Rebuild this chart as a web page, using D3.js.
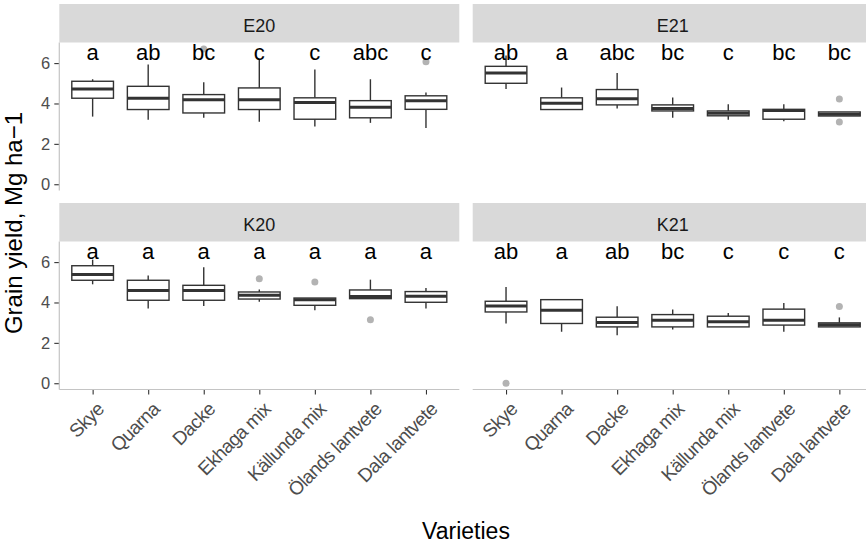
<!DOCTYPE html>
<html>
<head>
<meta charset="utf-8">
<script src="https://cdn.jsdelivr.net/npm/d3@7"></script>
<style>
  body { margin: 0; background: #fff; }
  svg { display: block; font-family: "Liberation Sans", Arial, sans-serif; }
</style>
</head>
<body>
<div id="chart"></div>
<script>
// Chart size
const width = 866;
const height = 544;

// Data
const varieties = ["Skye", "Quarna", "Dacke", "Ekhaga mix", "Källunda mix", "Ölands lantvete", "Dala lantvete"];
const sites = ["E20", "E21", "K20", "K21"];

const lowerWhisker = [
    [3.35, 3.20, 3.29, 3.10, 2.86, 3.04, 2.79],
    [4.72, 3.70, 3.75, 3.29, 3.20, 3.12, 3.38],
    [4.90, 3.70, 3.83, 4.03, 3.62, 4.19, 3.70],
    [2.96, 2.55, 2.38, 2.66, 2.79, 2.55, 2.79]
];
const q1 = [
    [4.26, 3.70, 3.53, 3.70, 3.22, 3.29, 3.71],
    [5.00, 3.70, 3.93, 3.63, 3.39, 3.22, 3.38],
    [5.10, 4.11, 4.11, 4.17, 3.86, 4.19, 4.01],
    [3.53, 2.96, 2.79, 2.79, 2.79, 2.88, 2.79]
];
const medians = [
    [4.72, 4.26, 4.18, 4.18, 4.05, 3.81, 4.14],
    [5.51, 4.01, 4.24, 3.75, 3.51, 3.65, 3.47],
    [5.38, 4.59, 4.59, 4.36, 4.14, 4.29, 4.31],
    [3.83, 3.62, 3.01, 3.12, 3.04, 3.12, 2.90]
];
const q3 = [
    [5.10, 4.85, 4.44, 4.77, 4.28, 4.14, 4.38],
    [5.84, 4.28, 4.69, 3.93, 3.63, 3.71, 3.58],
    [5.82, 5.10, 4.85, 4.52, 4.22, 4.62, 4.54],
    [4.06, 4.14, 3.27, 3.40, 3.32, 3.67, 2.99]
];
const upperWhisker = [
    [5.20, 5.93, 5.05, 6.20, 5.68, 5.20, 4.54],
    [6.37, 4.79, 5.51, 4.29, 3.96, 3.96, 3.58],
    [6.12, 5.34, 5.75, 4.64, 4.22, 5.13, 4.72],
    [4.77, 4.14, 3.81, 3.65, 3.48, 3.98, 3.26]
];
// [site, variety, value]
const outliers = [
    ["E20", "Dacke", 6.70], ["E20", "Dala lantvete", 6.07],
    ["E21", "Dala lantvete", 4.22], ["E21", "Dala lantvete", 3.08],
    ["K20", "Ekhaga mix", 5.18], ["K20", "Källunda mix", 5.01], ["K20", "Ölands lantvete", 3.14],
    ["K21", "Skye", 0.0], ["K21", "Dala lantvete", 3.80]
];
const letters = [
    ["a", "ab", "bc", "c", "c", "abc", "c"],
    ["ab", "a", "abc", "bc", "c", "bc", "bc"],
    ["a", "a", "a", "a", "a", "a", "a"],
    ["ab", "a", "ab", "bc", "c", "c", "c"]
];
const letterY = 6.15;
const yTicks = [0, 2, 4, 6];

// Panel layout (2 x 2 facets)
const colX = [59.3, 472.7];
const rowY = [42.5, 241.5];
const panelW = 400;
const panelH = 148;
const stripH = 38.5;

const svg = d3.select("#chart").append("svg")
    .attr("width", width)
    .attr("height", height);

sites.forEach((site, i) => {
    const col = i % 2, row = Math.floor(i / 2);
    const x0 = colX[col], y0 = rowY[row];

    const x = d3.scalePoint()
        .domain(varieties)
        .range([x0, x0 + panelW])
        .padding(0.6);
    const y = d3.scaleLinear()
        .domain([-0.31, 7.02])
        .range([y0 + panelH, y0]);
    const boxW = x.step() * 0.75;

    // strip
    svg.append("rect")
        .attr("x", x0).attr("y", y0 - stripH)
        .attr("width", panelW).attr("height", stripH)
        .attr("fill", "#d9d9d9");
    svg.append("text")
        .attr("x", x0 + panelW / 2).attr("y", y0 - 10.5)
        .attr("text-anchor", "middle")
        .attr("font-size", 18)
        .attr("fill", "#1a1a1a")
        .text(site);

    // axes
    if (col === 0) {
        const ay = svg.append("g")
            .attr("transform", `translate(${x0},0)`)
            .call(d3.axisLeft(y).tickValues(yTicks).tickSize(5).tickPadding(4).tickFormat(d3.format("d")));
        ay.select(".domain").remove();
        ay.selectAll(".tick line").attr("stroke", "#333").attr("stroke-width", 1.1);
        ay.selectAll(".tick text").attr("font-size", 16.5).attr("fill", "#4d4d4d").attr("font-family", null);
        svg.append("line")
            .attr("x1", x0).attr("x2", x0)
            .attr("y1", y0).attr("y2", y0 + panelH)
            .attr("stroke", "#c4c4c4").attr("stroke-width", 1.2);
    }
    if (row === 1) {
        const ax = svg.append("g")
            .attr("transform", `translate(0,${y0 + panelH})`)
            .call(d3.axisBottom(x).tickSize(5).tickFormat(""));
        ax.select(".domain").remove();
        ax.selectAll(".tick line").attr("stroke", "#333").attr("stroke-width", 1.1);
        ax.selectAll(".tick").append("text")
            .attr("text-anchor", "end")
            .attr("transform", "translate(12,21) rotate(-45)")
            .attr("font-size", 19)
            .attr("letter-spacing", -0.6)
            .attr("fill", "#4d4d4d")
            .text(d => d);
        svg.append("line")
            .attr("x1", x0).attr("x2", x0 + panelW)
            .attr("y1", y0 + panelH).attr("y2", y0 + panelH)
            .attr("stroke", "#c4c4c4").attr("stroke-width", 1.2);
    }

    // boxplots
    const g = svg.append("g");
    varieties.forEach((v, j) => {
        const cx = x(v);
        g.append("line")
            .attr("x1", cx).attr("x2", cx)
            .attr("y1", y(q3[i][j])).attr("y2", y(upperWhisker[i][j]))
            .attr("stroke", "#333").attr("stroke-width", 1.4);
        g.append("line")
            .attr("x1", cx).attr("x2", cx)
            .attr("y1", y(q1[i][j])).attr("y2", y(lowerWhisker[i][j]))
            .attr("stroke", "#333").attr("stroke-width", 1.4);
        g.append("rect")
            .attr("x", cx - boxW / 2).attr("y", y(q3[i][j]))
            .attr("width", boxW).attr("height", y(q1[i][j]) - y(q3[i][j]))
            .attr("fill", "#fff").attr("stroke", "#333").attr("stroke-width", 1.4);
        g.append("line")
            .attr("x1", cx - boxW / 2).attr("x2", cx + boxW / 2)
            .attr("y1", y(medians[i][j])).attr("y2", y(medians[i][j]))
            .attr("stroke", "#333").attr("stroke-width", 3);
    });

    g.selectAll("circle.out")
        .data(outliers.filter(o => o[0] === site))
        .enter().append("circle")
        .attr("class", "out")
        .attr("cx", d => x(d[1]))
        .attr("cy", d => y(d[2]))
        .attr("r", 3.5)
        .attr("fill", "#b3b3b3");

    // significance letters
    g.selectAll("text.letter")
        .data(letters[i])
        .enter().append("text")
        .attr("class", "letter")
        .attr("x", (d, j) => x(varieties[j]))
        .attr("y", y(letterY))
        .attr("text-anchor", "middle")
        .attr("font-size", 22)
        .attr("fill", "#000")
        .text(d => d);
});

// Axis titles
svg.append("text")
    .attr("x", 466).attr("y", 539)
    .attr("text-anchor", "middle")
    .attr("font-size", 23)
    .attr("fill", "#000")
    .text("Varieties");

svg.append("text")
    .attr("transform", "translate(22,223) rotate(-90)")
    .attr("text-anchor", "middle")
    .attr("font-size", 24)
    .attr("fill", "#000")
    .text("Grain yield, Mg ha\u22121");
</script>
</body>
</html>
